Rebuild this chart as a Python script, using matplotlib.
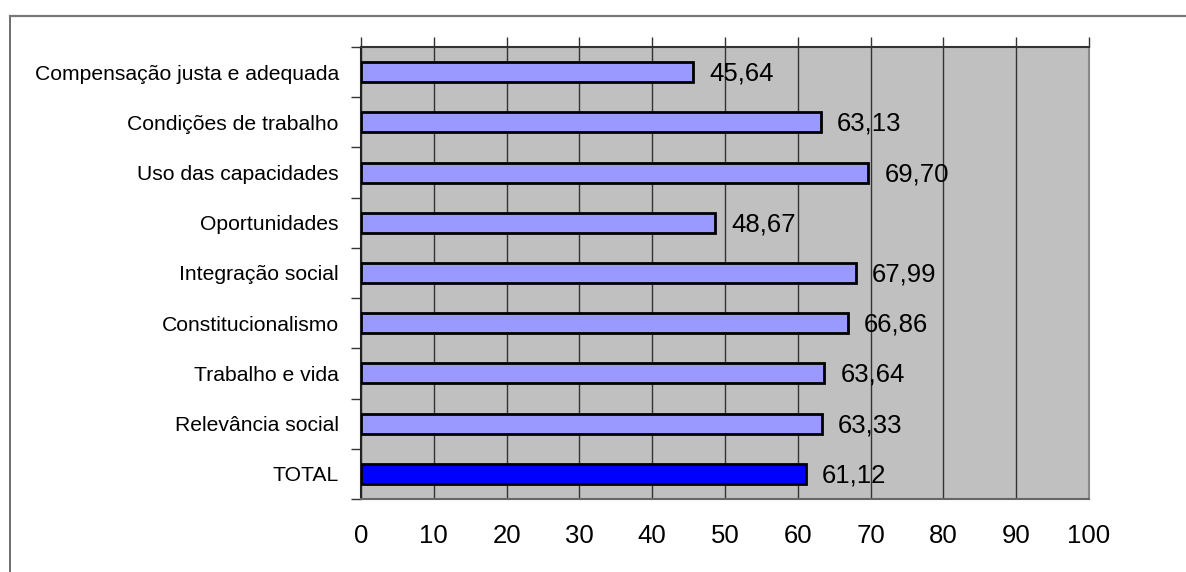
import matplotlib
matplotlib.use("Agg")
import matplotlib.pyplot as plt
from matplotlib.lines import Line2D
import numpy as np

plt.rcParams['font.family'] = ['Liberation Sans', 'DejaVu Sans']

categories = [
    "Compensação justa e adequada",
    "Condições de trabalho",
    "Uso das capacidades",
    "Oportunidades",
    "Integração social",
    "Constitucionalismo",
    "Trabalho e vida",
    "Relevância social",
    "TOTAL",
]
values = [45.64, 63.13, 69.70, 48.67, 67.99, 66.86, 63.64, 63.33, 61.12]
colors = ["#9999FF"] * 8 + ["#0000FF"]
xticks = [0, 10, 20, 30, 40, 50, 60, 70, 80, 90, 100]

fig = plt.figure(figsize=(11.86, 5.72), dpi=100)

# outer chart frame (left and top edges)
fig.add_artist(Line2D([10 / 1186, 10 / 1186], [0, 1 - 16 / 572],
                      transform=fig.transFigure, color="#555555", lw=1.2))
fig.add_artist(Line2D([10 / 1186, 1], [1 - 16 / 572, 1 - 16 / 572],
                      transform=fig.transFigure, color="#777777", lw=1.6))

ax = fig.add_axes([361 / 1186, 1 - 499 / 572, (1089 - 361) / 1186, (499 - 47) / 572])
ax.set_facecolor("#C0C0C0")

y = np.arange(len(categories))
ax.barh(y, values, height=0.4, color=colors, edgecolor="black", linewidth=2, zorder=3)

for yi, v in zip(y, values):
    ax.text(v + 2.2, yi + 0.03, f"{v:.2f}".replace(".", ","), va="center", ha="left",
            fontsize=18.5, color="black", zorder=4)

ax.set_xlim(0, 100)
ax.set_ylim(len(categories) - 0.5, -0.5)

ax.set_xticks(xticks)
ax.set_xticklabels([str(t) for t in xticks])
ax.xaxis.grid(True, color="#333333", lw=1, zorder=1)
ax.tick_params(axis="x", top=True, bottom=False, labeltop=False, labelbottom=True,
               direction="out", length=7, width=1, color="#333333", labelsize=18.5, pad=11)

# category ticks at boundaries, labels at centers
ax.set_yticks(np.arange(len(categories) + 1) - 0.5)
ax.set_yticklabels([])
ax.set_yticks(y, minor=True)
ax.set_yticklabels(categories, minor=True)
ax.tick_params(axis="y", which="major", direction="out", length=7, width=1, color="#333333")
ax.tick_params(axis="y", which="minor", length=0, labelsize=15.2, pad=16)

for side, col in [("left", "#222222"), ("top", "#333333"), ("right", "#888888"), ("bottom", "#666666")]:
    ax.spines[side].set_color(col)
    ax.spines[side].set_linewidth(1.5)

fig.savefig("out.png", dpi=100)
